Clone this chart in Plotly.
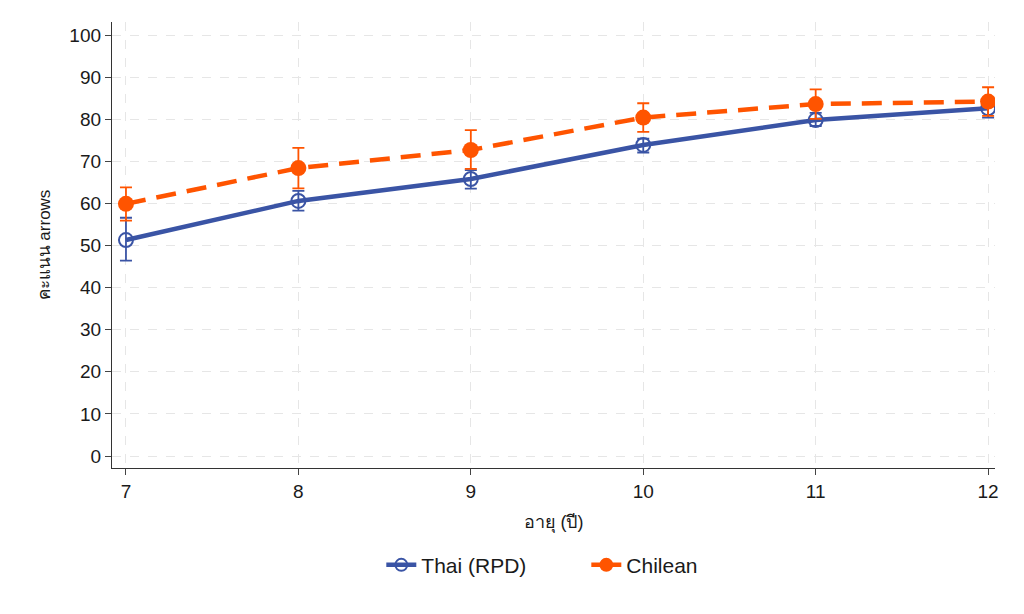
import plotly.graph_objects as go

ages = [7, 8, 9, 10, 11, 12]
thai_mean = [51.3, 60.6, 65.8, 73.9, 79.8, 82.6]
thai_upper = [56.6, 63.0, 67.9, 75.4, 81.5, 84.5]
thai_lower = [46.4, 58.3, 63.5, 72.1, 78.4, 80.4]
chile_mean = [59.9, 68.4, 72.7, 80.4, 83.6, 84.2]
chile_upper = [63.8, 73.2, 77.4, 83.8, 87.1, 87.6]
chile_lower = [55.9, 63.6, 68.2, 77.0, 80.1, 80.8]
y_ticks = [0, 10, 20, 30, 40, 50, 60, 70, 80, 90, 100]

blue = "#3A54A5"
orange = "#FF5400"

fig = go.Figure()
fig.add_trace(go.Scatter(
    x=ages, y=thai_mean, name="Thai (RPD)", mode="lines+markers", showlegend=False,
    line=dict(color=blue, width=4.5),
    marker=dict(symbol="circle-open", size=14, color=blue, line=dict(width=2)),
    error_y=dict(type="data", symmetric=False,
                 array=[u - m for u, m in zip(thai_upper, thai_mean)],
                 arrayminus=[m - l for m, l in zip(thai_mean, thai_lower)],
                 color=blue, thickness=1.8, width=6),
))
fig.add_trace(go.Scatter(
    x=ages, y=chile_mean, name="Chilean", mode="lines+markers", showlegend=False,
    line=dict(color=orange, width=4.5, dash="20px,11px"),
    marker=dict(symbol="circle", size=16, color=orange),
    error_y=dict(type="data", symmetric=False,
                 array=[u - m for u, m in zip(chile_upper, chile_mean)],
                 arrayminus=[m - l for m, l in zip(chile_mean, chile_lower)],
                 color=orange, thickness=1.8, width=6),
))
# legend entries (solid line keys as in the reference)
fig.add_trace(go.Scatter(
    x=[None], y=[None], name="Thai (RPD)", mode="lines+markers",
    line=dict(color=blue, width=4.5),
    marker=dict(symbol="circle-open", size=12, color=blue, line=dict(width=2)),
))
fig.add_trace(go.Scatter(
    x=[None], y=[None], name="Chilean", mode="lines+markers",
    line=dict(color=orange, width=4.5),
    marker=dict(symbol="circle", size=14, color=orange),
))

font_family = "Liberation Sans, Arial, Noto Sans, sans-serif"
fig.update_layout(
    width=1024, height=614,
    margin=dict(l=104, r=37, t=14, b=154),
    plot_bgcolor="white", paper_bgcolor="white",
    font=dict(family=font_family, color="#1a1a1a", size=16),
    legend=dict(orientation="h", x=0.305, xanchor="left", y=-0.172, yanchor="top",
                font=dict(size=21), entrywidth=160, entrywidthmode="pixels",
                traceorder="normal"),
    showlegend=True,
)
fig.update_xaxes(
    range=[6.919, 12.04], tickvals=ages, ticks="outside", ticklen=6,
    showline=True, linecolor="#333333", linewidth=1.3, automargin=False,
    showgrid=True, gridcolor="#e6e6e6", griddash="dash", gridwidth=1.3,
    zeroline=False, tickfont=dict(size=19),
    title=dict(text="อายุ (ปี)", font=dict(size=18), standoff=14),
)
fig.update_yaxes(
    range=[-2.85, 103.1], tickvals=y_ticks, ticks="outside", ticklen=6,
    showline=True, linecolor="#333333", linewidth=1.3, automargin=False,
    showgrid=True, gridcolor="#e6e6e6", griddash="dash", gridwidth=1.3,
    zeroline=False, tickfont=dict(size=19),
    title=dict(text="คะแนน arrows", font=dict(size=17), standoff=14),
)
fig.write_html("out.html")
